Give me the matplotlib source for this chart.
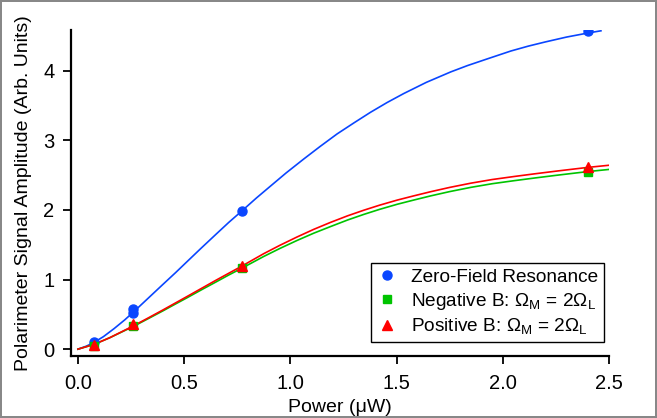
import numpy as np
import matplotlib
matplotlib.use("Agg")
import matplotlib.pyplot as plt

plt.rcParams['font.family'] = ['Liberation Sans', 'DejaVu Sans']
plt.rcParams['mathtext.fontset'] = 'custom'
plt.rcParams['mathtext.rm'] = 'Liberation Sans'
plt.rcParams['mathtext.it'] = 'Liberation Sans:italic'

# measured points
zero_x = [0.077, 0.26, 0.26, 0.77, 2.40]
zero_y = [0.10, 0.52, 0.58, 1.98, 4.56]
neg_x = [0.077, 0.26, 0.77, 2.40]
neg_y = [0.04, 0.33, 1.17, 2.55]
pos_x = [0.077, 0.26, 0.77, 2.40]
pos_y = [0.06, 0.36, 1.20, 2.62]

# fit curves
zero_fit_x = [0.0, 0.04, 0.077, 0.12, 0.17, 0.22, 0.26, 0.33, 0.4, 0.46, 0.513, 0.58,
              0.65, 0.71, 0.77, 0.84, 0.906, 0.98, 1.063, 1.14, 1.22, 1.3,
              1.377, 1.455, 1.534, 1.64, 1.755, 1.833, 1.93, 2.038, 2.12, 2.2,
              2.3, 2.404, 2.462]
zero_fit_y = [0.0, 0.044, 0.10, 0.18, 0.295, 0.42, 0.53, 0.73, 0.93, 1.10, 1.255, 1.45,
              1.65, 1.82, 1.98, 2.17, 2.34, 2.53, 2.73, 2.91, 3.09, 3.25,
              3.40, 3.54, 3.67, 3.83, 3.98, 4.07, 4.17, 4.28, 4.35, 4.41,
              4.48, 4.54, 4.57]
fit_x = [0.0, 0.077, 0.15, 0.26, 0.33, 0.4, 0.46, 0.513, 0.58, 0.65, 0.71, 0.77,
         0.874, 0.95, 1.031, 1.11, 1.189, 1.27, 1.346, 1.42, 1.503, 1.58, 1.66,
         1.75, 1.85, 1.95, 2.052, 2.15, 2.25, 2.33, 2.4, 2.5]
neg_fit_y = [0.0, 0.07, 0.165, 0.325, 0.437, 0.55, 0.65, 0.737, 0.85, 0.965, 1.065, 1.16,
             1.33, 1.445, 1.56, 1.665, 1.76, 1.855, 1.935, 2.007, 2.08, 2.14, 2.20,
             2.262, 2.323, 2.375, 2.418, 2.457, 2.495, 2.524, 2.549, 2.58]
pos_fit_y = [0.0, 0.07, 0.165, 0.333, 0.447, 0.563, 0.665, 0.755, 0.87, 0.99, 1.09, 1.19,
             1.37, 1.49, 1.61, 1.72, 1.82, 1.915, 1.995, 2.067, 2.14, 2.20, 2.26,
             2.322, 2.383, 2.435, 2.478, 2.517, 2.555, 2.584, 2.609, 2.64]

blue = '#0a46ff'
green = '#00c400'
red = '#ff0000'

fig = plt.figure(figsize=(6.57, 4.18), dpi=100)
fig.patch.set_edgecolor('#888888')
fig.patch.set_linewidth(1.5)
ax = fig.add_axes([0.108, 0.148, 0.819, 0.78])

ax.plot(zero_fit_x, zero_fit_y, color=blue, lw=1.2)
ax.plot(fit_x, neg_fit_y, color=green, lw=1.2)
ax.plot(fit_x, pos_fit_y, color=red, lw=1.2)

ax.plot(zero_x, zero_y, 'o', color=blue, ms=6.5, ls='none', label='Zero-Field Resonance')
ax.plot(neg_x, neg_y, 's', color=green, ms=6, ls='none',
        label=r'Negative B: $\Omega_\mathrm{M}$ = 2$\Omega_\mathrm{L}$')
ax.plot(pos_x, pos_y, '^', color=red, ms=6.5, ls='none',
        label=r'Positive B: $\Omega_\mathrm{M}$ = 2$\Omega_\mathrm{L}$')

ax.set_xlim(-0.033, 2.5)
ax.set_ylim(-0.1, 4.58)
ax.set_xticks([0.0, 0.5, 1.0, 1.5, 2.0, 2.5])
ax.set_xticklabels(['0.0', '0.5', '1.0', '1.5', '2.0', '2.5'])
ax.set_yticks([0, 1, 2, 3, 4])

for s in ['top', 'right']:
    ax.spines[s].set_visible(False)
for s in ['left', 'bottom']:
    ax.spines[s].set_linewidth(1.6)
ax.tick_params(direction='out', length=6, width=1.3, labelsize=14.5)
ax.tick_params(axis='x', pad=7)
ax.tick_params(axis='y', pad=6)

ax.set_xlabel('Power (\u03bcW)', fontsize=14, labelpad=4)
ax.set_ylabel('Polarimeter Signal Amplitude (Arb. Units)', fontsize=14, labelpad=8)

leg = ax.legend(loc='lower right', bbox_to_anchor=(0.991, 0.043), fontsize=13.7,
                frameon=True, fancybox=False, framealpha=1, edgecolor='black',
                handlelength=1.0, handletextpad=0.8, borderpad=0.3, labelspacing=0.25,
                borderaxespad=0)
leg.get_frame().set_linewidth(1.0)

fig.savefig('out.png', dpi=100)
